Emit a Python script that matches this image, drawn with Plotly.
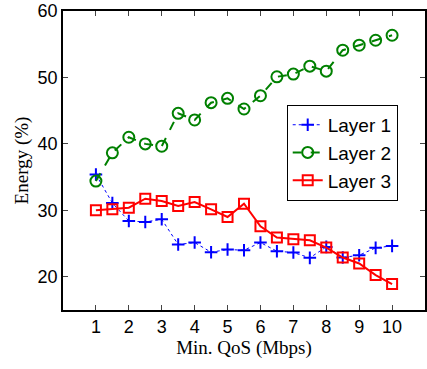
import plotly.graph_objects as go

qos = [1, 1.5, 2, 2.5, 3, 3.5, 4, 4.5, 5, 5.5, 6, 6.5, 7, 7.5, 8, 8.5, 9, 9.5, 10]
layer1 = [35.4, 31.1, 28.4, 28.25, 28.65, 24.85, 25.15, 23.7, 24.1, 24.0, 25.15,
          23.85, 23.65, 22.85, 24.5, 22.9, 23.25, 24.35, 24.65]
layer2 = [34.4, 38.65, 41.0, 40.0, 39.65, 44.6, 43.6, 46.2, 46.85, 45.25, 47.25,
          50.1, 50.5, 51.7, 50.95, 54.1, 54.85, 55.6, 56.35]
layer3 = [30.0, 30.15, 30.4, 31.75, 31.4, 30.65, 31.25, 30.15, 29.0, 31.0, 27.6,
          25.9, 25.65, 25.5, 24.4, 22.9, 22.0, 20.25, 18.9]
names = ["Layer 1", "Layer 2", "Layer 3"]
x_ticks = [1, 2, 3, 4, 5, 6, 7, 8, 9, 10]
y_ticks = [20, 30, 40, 50, 60]

fig = go.Figure()
fig.add_trace(go.Scatter(
    x=qos, y=layer1, name=names[0], mode="lines+markers",
    line=dict(color="rgb(0,0,255)", width=1, dash="dot"),
    marker=dict(symbol="cross-thin-open", size=9, line=dict(color="rgb(0,0,255)", width=2))))
fig.add_trace(go.Scatter(
    x=qos, y=layer2, name=names[1], mode="lines+markers",
    line=dict(color="rgb(0,128,0)", width=2, dash="dash"),
    marker=dict(symbol="circle-open", size=11, line=dict(color="rgb(0,128,0)", width=2))))
fig.add_trace(go.Scatter(
    x=qos, y=layer3, name=names[2], mode="lines+markers",
    line=dict(color="rgb(255,0,0)", width=2),
    marker=dict(symbol="square-open", size=10, line=dict(color="rgb(255,0,0)", width=2))))

fig.update_layout(
    width=427, height=369,
    margin=dict(l=63, r=0, t=11, b=59),
    paper_bgcolor="white", plot_bgcolor="white",
    font=dict(family="Liberation Sans, Arial", size=18, color="black"),
    showlegend=True,
    legend=dict(x=0.618, y=0.686, xanchor="left", yanchor="top",
                bordercolor="black", borderwidth=1, bgcolor="white",
                font=dict(size=19), tracegroupgap=0),
)
fig.update_xaxes(
    range=[0, 11], tickvals=x_ticks, ticks="inside", ticklen=5,
    showline=True, linecolor="black", linewidth=1.5, mirror="ticks",
    showgrid=False, zeroline=False,
    title=dict(text="Min. QoS (Mbps)", font=dict(family="Liberation Serif, Times New Roman", size=19), standoff=4),
)
fig.update_yaxes(
    range=[15, 60], tickvals=y_ticks, ticks="inside", ticklen=5,
    showline=True, linecolor="black", linewidth=1.5, mirror="ticks",
    showgrid=False, zeroline=False,
    title=dict(text="Energy (%)", font=dict(family="Liberation Serif, Times New Roman", size=19), standoff=4),
)

fig.write_html("out.html")
